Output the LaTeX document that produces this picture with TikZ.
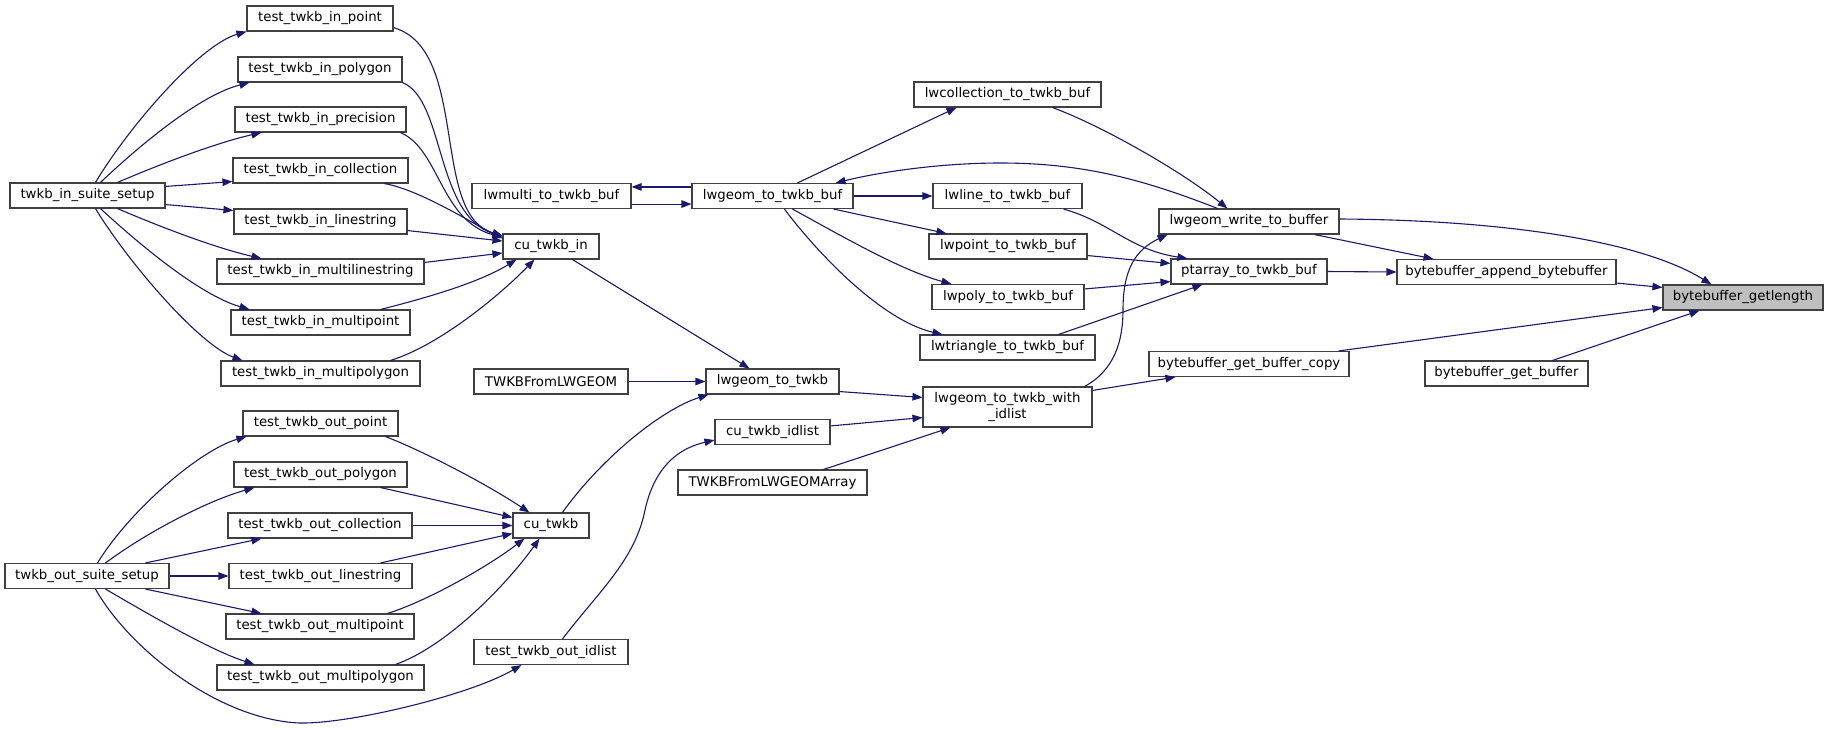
\documentclass[tikz,border=0pt]{standalone}
\usepackage{fontspec}
\setmainfont{DejaVu Sans}
\usetikzlibrary{arrows.meta}
\definecolor{edgecol}{HTML}{191970}
\definecolor{bordercol}{HTML}{404040}
\definecolor{hlcol}{HTML}{BFBFBF}
\begin{document}
\begin{tikzpicture}[x=1pt,y=-1pt,
  box/.style={draw=bordercol,line width=1.1pt,fill=white,rectangle,inner sep=0pt,
    minimum height=25pt,font=\fontsize{13.3}{15.5}\selectfont,text=black},
  hbox/.style={box,fill=hlcol},
  conn/.style={draw=edgecol,line width=1.1pt,-{Triangle[length=10pt,width=7.5pt]}}]
\useasboundingbox[fill=white] (0,0) rectangle (1828,729);
% ---------- nodes ----------
\node[box,minimum width=146pt] (inpoint) at (320,18.5) {test\_twkb\_in\_point};
\node[box,minimum width=164pt] (inpolygon) at (320,69.5) {test\_twkb\_in\_polygon};
\node[box,minimum width=171pt] (inprecision) at (320.5,119.5) {test\_twkb\_in\_precision};
\node[box,minimum width=175pt] (incollection) at (320.5,170.5) {test\_twkb\_in\_collection};
\node[box,minimum width=173pt] (inlinestring) at (320.5,221.5) {test\_twkb\_in\_linestring};
\node[box,minimum width=207pt] (inmultiline) at (320.5,271.5) {test\_twkb\_in\_multilinestring};
\node[box,minimum width=179pt] (inmultipoint) at (320.5,322.5) {test\_twkb\_in\_multipoint};
\node[box,minimum width=199pt] (inmultipoly) at (320.5,373.5) {test\_twkb\_in\_multipolygon};
\node[box,minimum width=155pt] (insetup) at (87.5,195.5) {twkb\_in\_suite\_setup};
\node[box,minimum width=155pt] (outpoint) at (320.5,423.5) {test\_twkb\_out\_point};
\node[box,minimum width=173pt] (outpolygon) at (320.5,474.5) {test\_twkb\_out\_polygon};
\node[box,minimum width=184pt] (outcollection) at (320,525.5) {test\_twkb\_out\_collection};
\node[box,minimum width=183pt] (outlinestring) at (320.5,576) {test\_twkb\_out\_linestring};
\node[box,minimum width=188pt] (outmultipoint) at (320,626.5) {test\_twkb\_out\_multipoint};
\node[box,minimum width=207pt] (outmultipoly) at (320.5,677.5) {test\_twkb\_out\_multipolygon};
\node[box,minimum width=164pt] (outsetup) at (87,576) {twkb\_out\_suite\_setup};
\node[box,minimum width=159pt] (lwmulti) at (551.5,196) {lwmulti\_to\_twkb\_buf};
\node[box,minimum width=161pt] (lwgeombuf) at (772.5,196) {lwgeom\_to\_twkb\_buf};
\node[box,minimum width=96pt] (cuin) at (551,246.5) {cu\_twkb\_in};
\node[box,minimum width=154pt] (fromlwgeom) at (551,381.5) {TWKBFromLWGEOM};
\node[box,minimum width=133pt] (lwgeomtotwkb) at (772.5,381.5) {lwgeom\_to\_twkb};
\node[box,minimum width=115pt] (cuidlist) at (772.5,432) {cu\_twkb\_idlist};
\node[box,minimum width=189pt] (fromarray) at (772.5,482.5) {TWKBFromLWGEOMArray};
\node[box,minimum width=76pt] (cutwkb) at (551,525.5) {cu\_twkb};
\node[box,minimum width=154pt] (outidlist) at (551,652) {test\_twkb\_out\_idlist};
\node[box,minimum width=187pt] (lwcoll) at (1007.5,94.5) {lwcollection\_to\_twkb\_buf};
\node[box,minimum width=149pt] (lwline) at (1007.5,196) {lwline\_to\_twkb\_buf};
\node[box,minimum width=158pt] (lwpoint) at (1008,246.5) {lwpoint\_to\_twkb\_buf};
\node[box,minimum width=152pt] (lwpoly) at (1008,297) {lwpoly\_to\_twkb\_buf};
\node[box,minimum width=175pt] (lwtri) at (1007.5,347.5) {lwtriangle\_to\_twkb\_buf};
\node[box,minimum width=169pt,minimum height=40pt,align=center] (withidlist) at (1007.5,407) {lwgeom\_to\_twkb\_with\\\_idlist};
\node[box,minimum width=180pt] (writebuf) at (1249,221.5) {lwgeom\_write\_to\_buffer};
\node[box,minimum width=156pt] (ptarray) at (1249,271.5) {ptarray\_to\_twkb\_buf};
\node[box,minimum width=200pt] (getcopy) at (1249,364) {bytebuffer\_get\_buffer\_copy};
\node[box,minimum width=219pt] (append) at (1506.5,272) {bytebuffer\_append\_bytebuffer};
\node[hbox,minimum width=160pt] (getlength) at (1743,297.5) {bytebuffer\_getlength};
\node[box,minimum width=163pt] (getbuffer) at (1506.5,373.5) {bytebuffer\_get\_buffer};
% ---------- twkb_in_suite_setup ----------
\draw[conn] ([xshift=86pt]insetup.north west) .. controls (130,125) and (200,45) .. (inpoint.south west);
\draw[conn] ([xshift=91pt]insetup.north west) .. controls (140,145) and (200,95) .. ([xshift=12pt]inpolygon.south west);
\draw[conn] ([xshift=108pt]insetup.north west) .. controls (170,160) and (220,142) .. ([xshift=27pt]inprecision.south west);
\draw[conn] ([yshift=-4pt]insetup.north east) -- ([yshift=2pt]incollection.south west);
\draw[conn] ([yshift=4pt]insetup.south east) -- ([yshift=-2pt]inlinestring.north west);
\draw[conn] ([xshift=108pt]insetup.south west) .. controls (170,231) and (220,249) .. ([xshift=45pt]inmultiline.north west);
\draw[conn] ([xshift=91pt]insetup.south west) .. controls (140,245) and (200,295) .. ([xshift=19pt]inmultipoint.north west);
\draw[conn] ([xshift=86pt]insetup.south west) .. controls (130,265) and (200,345) .. ([xshift=22pt]inmultipoly.north west);
% ---------- test_twkb_in_* -> cu_twkb_in ----------
\draw[conn] ([yshift=4pt]inpoint.south east) .. controls (470,50) and (430,215) .. ([yshift=-2pt]cuin.north west);
\draw[conn] (inpolygon.south east) .. controls (445,100) and (435,215) .. ([yshift=-3pt]cuin.north west);
\draw[conn] ([xshift=-6pt]inprecision.south east) .. controls (440,150) and (440,220) .. ([yshift=-4pt]cuin.north west);
\draw[conn] ([xshift=-24pt]incollection.south east) .. controls (420,190) and (470,222) .. ([yshift=-5pt]cuin.north west);
\draw[conn] ([yshift=4pt]inlinestring.south east) -- ([yshift=5.5pt]cuin.west);
\draw[conn] ([yshift=-4pt]inmultiline.north east) -- ([yshift=-6.5pt]cuin.west);
\draw[conn] ([xshift=-30pt]inmultipoint.north east) .. controls (430,297) and (480,282) .. ([xshift=14pt]cuin.south west);
\draw[conn] ([xshift=-30pt]inmultipoly.north east) .. controls (440,345) and (500,295) .. ([xshift=32pt]cuin.south west);
% ---------- twkb_out_suite_setup ----------
\draw[conn] ([xshift=93pt]outsetup.north west) .. controls (130,510) and (200,450) .. ([xshift=4pt]outpoint.south west);
\draw[conn] ([xshift=101pt]outsetup.north west) .. controls (150,530) and (210,500) .. ([xshift=21pt]outpolygon.south west);
\draw[conn] ([xshift=141pt]outsetup.north west) -- ([xshift=34pt]outcollection.south west);
\draw[conn] (outsetup.east) -- (outlinestring.west);
\draw[conn] ([xshift=141pt]outsetup.south west) -- ([xshift=36pt]outmultipoint.north west);
\draw[conn] ([xshift=101pt]outsetup.south west) .. controls (150,615) and (210,650) .. ([xshift=38pt]outmultipoly.north west);
\draw[conn] ([xshift=91pt]outsetup.south west) .. controls (130,650) and (220,720) .. (300,723) .. controls (350,724) and (470,695) .. ([xshift=48pt]outidlist.south west);
% ---------- test_twkb_out_* -> cu_twkb ----------
\draw[conn] ([xshift=-13pt]outpoint.south east) .. controls (420,450) and (480,480) .. ([xshift=17pt]cutwkb.north west);
\draw[conn] ([xshift=-27pt]outpolygon.south east) -- ([yshift=-5pt]cutwkb.north west);
\draw[conn] (outcollection.east) -- (cutwkb.west);
\draw[conn] ([xshift=-32pt]outlinestring.north east) -- ([yshift=5pt]cutwkb.south west);
\draw[conn] ([xshift=-27pt]outmultipoint.north east) .. controls (430,600) and (490,565) .. ([xshift=12pt]cutwkb.south west);
\draw[conn] ([xshift=-29pt]outmultipoly.north east) .. controls (450,645) and (510,580) .. ([xshift=27pt]cutwkb.south west);
% ---------- middle ----------
\draw[conn] ([xshift=70pt]cuin.south west) -- ([xshift=44pt]lwgeomtotwkb.north west);
\draw[conn] ([xshift=50pt]cutwkb.north west) .. controls (600,460) and (660,410) .. ([xshift=3pt]lwgeomtotwkb.south west);
\draw[conn] (fromlwgeom.east) -- (lwgeomtotwkb.west);
\draw[conn] ([xshift=89pt]outidlist.north west) .. controls (600,590) and (635,560) .. (645,510) .. controls (655,465) and (680,448) .. ([yshift=5pt]cuidlist.south west);
\draw[conn] ([yshift=3pt]lwgeomtotwkb.south east) -- ([yshift=-11pt]withidlist.north west);
\draw[conn] ([yshift=-7pt]cuidlist.north east) -- ([yshift=10pt]withidlist.south west);
\draw[conn] ([xshift=-44pt]fromarray.north east) -- ([xshift=28pt]withidlist.south west);
\draw[conn] ([xshift=-8pt]withidlist.north east) .. controls (1115,370) and (1123,340) .. (1123,310) .. controls (1123,270) and (1135,250) .. ([xshift=9pt]writebuf.south west);
\draw[conn] ([yshift=-4pt]withidlist.north east) -- ([xshift=27pt]getcopy.south west);
% ---------- lwgeom_to_twkb_buf ----------
\draw[conn] ([yshift=5pt]lwmulti.south east) -- ([yshift=5pt]lwgeombuf.south west);
\draw[conn] ([yshift=-4pt]lwgeombuf.north west) -- ([yshift=-4pt]lwmulti.north east);
\draw[conn] ([xshift=59pt]writebuf.north west) .. controls (1140,178) and (1080,163) .. (1000,163) .. controls (940,163) and (880,172) .. ([xshift=-18pt]lwgeombuf.north east);
\draw[conn] ([xshift=106pt]lwgeombuf.north west) -- ([xshift=43pt]lwcoll.south west);
\draw[conn] ([xshift=-49pt]lwcoll.south east) .. controls (1100,125) and (1180,170) .. ([xshift=69pt]writebuf.north west);
\draw[conn] (lwgeombuf.east) -- (lwline.west);
\draw[conn] ([xshift=-20pt]lwgeombuf.south east) -- ([xshift=18pt]lwpoint.north west);
\draw[conn] ([xshift=101pt]lwgeombuf.south west) .. controls (840,235) and (900,270) .. ([xshift=20pt]lwpoly.north west);
\draw[conn] ([xshift=93pt]lwgeombuf.south west) .. controls (815,250) and (880,320) .. ([xshift=23pt]lwtri.north west);
% ---------- -> ptarray ----------
\draw[conn] ([xshift=-19pt]lwline.south east) .. controls (1110,222) and (1130,250) .. ([xshift=17pt]ptarray.north west);
\draw[conn] ([yshift=4pt]lwpoint.south east) -- ([yshift=-5pt]ptarray.north west);
\draw[conn] ([yshift=-5pt]lwpoly.north east) -- ([yshift=3pt]ptarray.south west);
\draw[conn] ([xshift=-37pt]lwtri.north east) -- ([xshift=32pt]ptarray.south west);
\draw[conn] (ptarray.east) -- (append.west);
% ---------- right ----------
\draw[conn] ([xshift=-25pt]writebuf.south east) -- ([xshift=37pt]append.north west);
\draw[conn] ([yshift=2.5pt]writebuf.east) .. controls (1500,220) and (1640,240) .. ([xshift=49pt]getlength.north west);
\draw[conn] ([yshift=2pt]append.south east) -- ([yshift=-3pt]getlength.north west);
\draw[conn] ([xshift=-11pt]getcopy.north east) -- ([yshift=3pt]getlength.south west);
\draw[conn] ([xshift=128pt]getbuffer.north west) -- ([xshift=37pt]getlength.south west);
\end{tikzpicture}
\end{document}
